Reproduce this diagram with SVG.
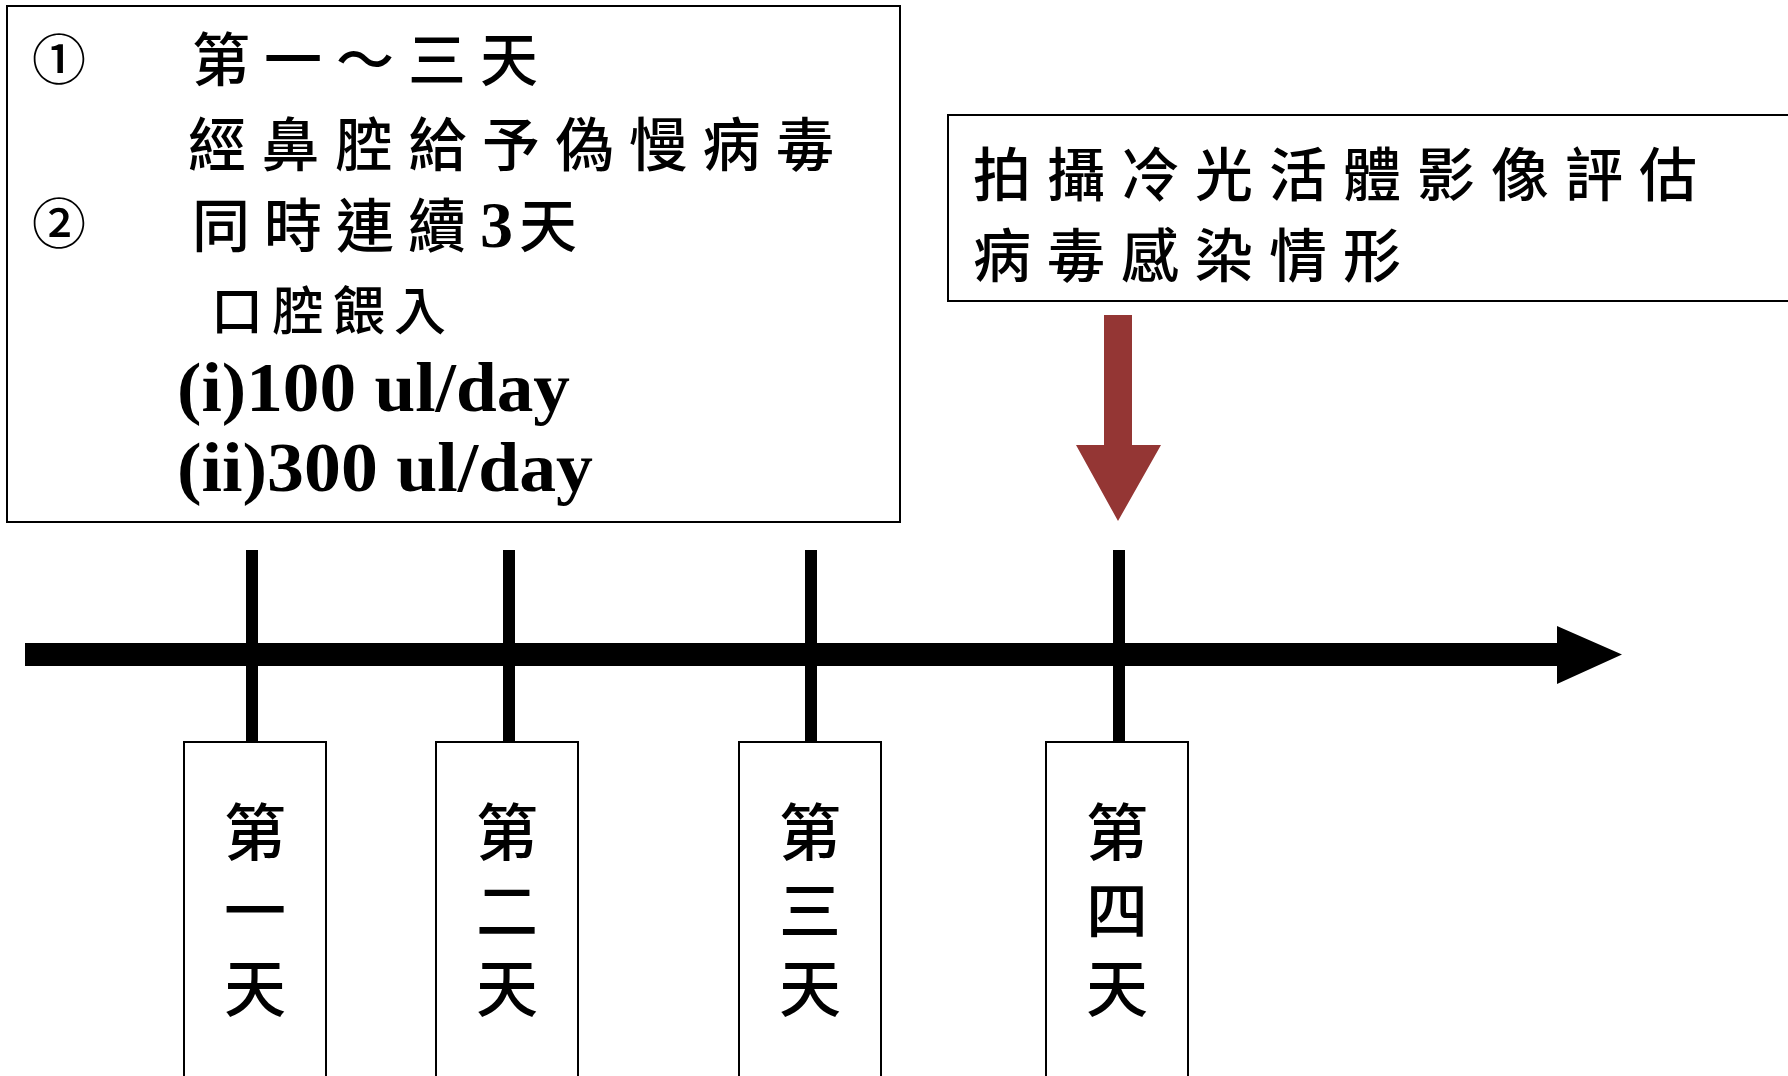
<svg xmlns="http://www.w3.org/2000/svg" width="1788" height="1076" viewBox="0 0 1788 1076">
<style>
.box{fill:#fff;stroke:#000;stroke-width:2}
.cjk{font-family:"Noto Sans CJK TC","Noto Sans CJK SC",sans-serif;font-weight:500;fill:#000}
.lat{font-family:"Liberation Serif","Times New Roman",serif;font-weight:bold;fill:#000}
.tick{stroke:#000;stroke-width:12}
.day{font-family:"Noto Sans CJK TC",sans-serif;font-weight:500;font-size:62px;writing-mode:vertical-rl;letter-spacing:16px}
</style>
<rect width="1788" height="1076" fill="#fff"/>
<g id="connectors">
<line class="tick" x1="252" y1="550" x2="252" y2="743"/>
<line class="tick" x1="509" y1="550" x2="509" y2="743"/>
<line class="tick" x1="811" y1="550" x2="811" y2="743"/>
<line class="tick" x1="1119" y1="550" x2="1119" y2="743"/>
<polygon points="25,643 1557,643 1557,626 1622,654.5 1557,684 1557,666 25,666" fill="#000"/>
<polygon points="1104,315 1132,315 1132,445 1161,445 1118,521 1076,445 1104,445" fill="#943634"/>
</g>
<g id="left-box">
<rect class="box" x="7" y="6" width="893" height="516"/>
<text class="cjk" x="32" y="80" font-size="54">①</text>
<text class="cjk" x="192" y="81" font-size="58" letter-spacing="14">第一～三天</text>
<text class="cjk" x="188" y="166" font-size="58" letter-spacing="15.5">經鼻腔給予偽慢病毒</text>
<text class="cjk" x="32" y="244" font-size="54">②</text>
<text class="cjk" x="192" y="247" font-size="58" letter-spacing="14">同時連續<tspan font-family="Liberation Serif" font-weight="bold" font-size="66" letter-spacing="6">3</tspan>天</text>
<text class="cjk" x="211" y="330" font-size="52" letter-spacing="9">口腔餵入</text>
<text class="lat" x="177" y="411" font-size="70" textLength="393" lengthAdjust="spacingAndGlyphs">(i)100 ul/day</text>
<text class="lat" x="177" y="491" font-size="70" textLength="416" lengthAdjust="spacingAndGlyphs">(ii)300 ul/day</text>
</g>
<g id="right-box">
<rect class="box" x="948" y="115" width="850" height="186"/>
<text class="cjk" x="973" y="196" font-size="58" letter-spacing="16">拍攝冷光活體影像評估</text>
<text class="cjk" x="973" y="277" font-size="58" letter-spacing="16">病毒感染情形</text>
</g>
<g id="day1">
<rect class="box" x="184" y="742" width="142" height="340"/>
<text class="day" x="255" y="801">第一天</text>
</g>
<g id="day2">
<rect class="box" x="436" y="742" width="142" height="340"/>
<text class="day" x="507" y="801">第二天</text>
</g>
<g id="day3">
<rect class="box" x="739" y="742" width="142" height="340"/>
<text class="day" x="810" y="801">第三天</text>
</g>
<g id="day4">
<rect class="box" x="1046" y="742" width="142" height="340"/>
<text class="day" x="1117" y="801">第四天</text>
</g>
</svg>
